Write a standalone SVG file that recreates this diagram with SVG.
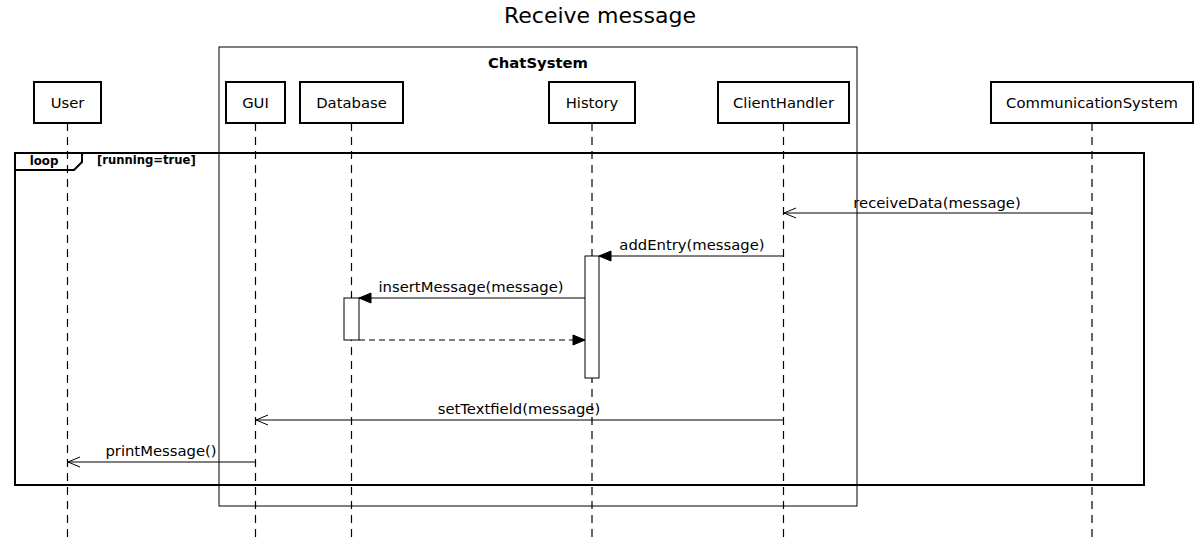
<svg xmlns="http://www.w3.org/2000/svg" width="1200" height="537" viewBox="0 0 1200 537">
<style>
text{font-family:"DejaVu Sans","Liberation Sans",sans-serif;fill:#000}
.box{fill:#fff;stroke:#000;stroke-width:2}
.lbl{font-size:14.8px;text-anchor:middle}
.life{stroke:#000;stroke-width:1.2;stroke-dasharray:8,6;fill:none}
.msg{stroke:#000;stroke-width:1;fill:none}
.act{fill:#fff;stroke:#000;stroke-width:1}
</style>
<defs>
<marker id="open" markerWidth="14" markerHeight="12" refX="13" refY="6" orient="auto" markerUnits="userSpaceOnUse">
<path d="M1,1 L13,6 L1,11" fill="none" stroke="#000" stroke-width="1"/>
</marker>
<marker id="fill" markerWidth="14" markerHeight="12" refX="13" refY="6" orient="auto" markerUnits="userSpaceOnUse">
<path d="M1,1 L13,6 L1,11 Z" fill="#000" stroke="#000" stroke-width="1"/>
</marker>
</defs>
<text x="600" y="23" style="font-size:22px;text-anchor:middle">Receive message</text>
<g id="chatsystem">
<rect x="219" y="47" width="638" height="459" fill="none" stroke="#000" stroke-width="1"/>
<text x="538" y="68" style="font-size:14.8px;font-weight:bold;text-anchor:middle">ChatSystem</text>
</g>
<g id="lifelines">
<line class="life" x1="67.5" y1="123" x2="67.5" y2="537"/>
<line class="life" x1="255.5" y1="123" x2="255.5" y2="537"/>
<line class="life" x1="351.5" y1="123" x2="351.5" y2="537"/>
<line class="life" x1="592" y1="123" x2="592" y2="537"/>
<line class="life" x1="783.5" y1="123" x2="783.5" y2="537"/>
<line class="life" x1="1092" y1="123" x2="1092" y2="537"/>
</g>
<g id="user"><rect class="box" x="34" y="82" width="67" height="41"/><text class="lbl" x="67.5" y="108">User</text></g>
<g id="gui"><rect class="box" x="226" y="82" width="59" height="41"/><text class="lbl" x="255.5" y="108">GUI</text></g>
<g id="database"><rect class="box" x="300" y="82" width="103" height="41"/><text class="lbl" x="351.5" y="108">Database</text></g>
<g id="history"><rect class="box" x="549" y="82" width="86" height="41"/><text class="lbl" x="592" y="108">History</text></g>
<g id="clienthandler"><rect class="box" x="718" y="82" width="131" height="41"/><text class="lbl" x="783.5" y="108">ClientHandler</text></g>
<g id="communicationsystem"><rect class="box" x="991" y="82" width="202" height="41"/><text class="lbl" x="1092" y="108">CommunicationSystem</text></g>
<g id="loop">
<rect x="15" y="153" width="1129" height="332" fill="none" stroke="#000" stroke-width="2"/>
<path d="M15,170 L74,170 L82,162 L82,153" fill="none" stroke="#000" stroke-width="2"/>
<text x="44" y="165" style="font-size:11.8px;font-weight:bold;text-anchor:middle">loop</text>
<text x="97" y="164" style="font-size:11.6px;font-weight:bold">[running=true]</text>
</g>
<g id="activations">
<rect class="act" x="585" y="256" width="14" height="122"/>
<rect class="act" x="344" y="298" width="15" height="42"/>
</g>
<g id="connectors">
<line class="msg" x1="1092" y1="213" x2="784" y2="213" marker-end="url(#open)"/>
<text class="lbl" x="937" y="208">receiveData(message)</text>
<line class="msg" x1="783.5" y1="256" x2="599" y2="256" marker-end="url(#fill)"/>
<text class="lbl" x="692" y="250">addEntry(message)</text>
<line class="msg" x1="585" y1="298" x2="359" y2="298" marker-end="url(#fill)"/>
<text class="lbl" x="471" y="292">insertMessage(message)</text>
<line class="msg" x1="359" y1="340" x2="585" y2="340" stroke-dasharray="6,4" marker-end="url(#fill)"/>
<line class="msg" x1="783.5" y1="420" x2="256" y2="420" marker-end="url(#open)"/>
<text class="lbl" x="519" y="414">setTextfield(message)</text>
<line class="msg" x1="255.5" y1="462" x2="68" y2="462" marker-end="url(#open)"/>
<text class="lbl" x="161" y="456">printMessage()</text>
</g>
</svg>
